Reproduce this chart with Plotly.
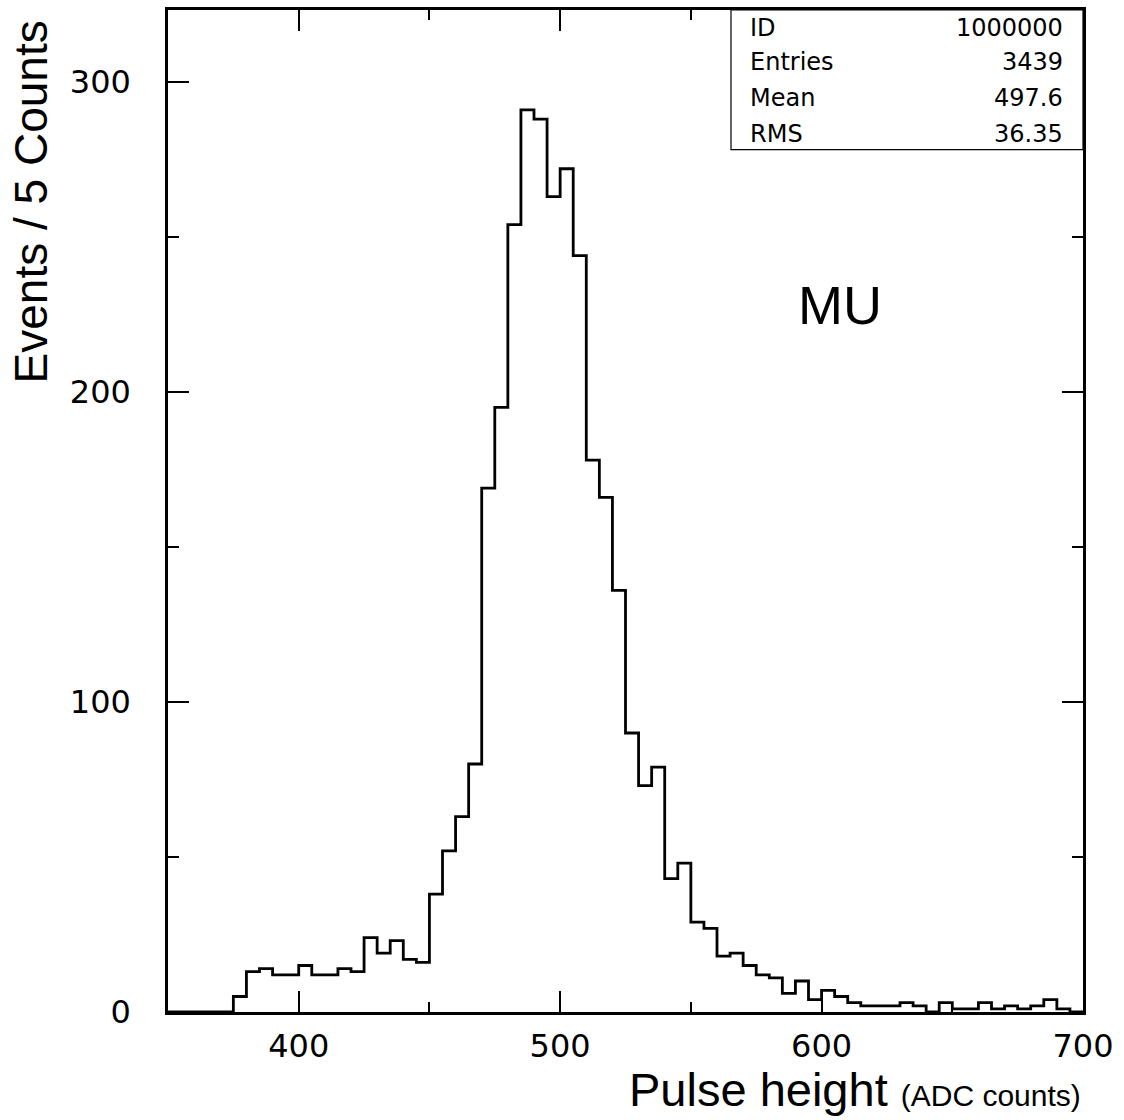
import numpy as np
import plotly.graph_objects as go

# Histogram: bin lower edges (width 5) and counts
bin_width = 5
bin_low = list(range(350, 700, 5))
counts = [0, 0, 0, 0, 0,
          5, 13, 14, 12, 12,
          15, 12, 12, 14, 13,
          24, 19, 23, 17, 16,
          38, 52, 63, 80, 169,
          195, 254, 291, 288, 263,
          272, 244, 178, 166, 136,
          90, 73, 79, 43, 48,
          29, 27, 18, 19, 15,
          12, 11, 6, 10, 4,
          7, 5, 3, 2, 2, 2,
          3, 2, 0, 3, 1, 1,
          3, 1, 2, 1, 2, 4, 1, 0]

stat_labels = ["ID", "Entries", "Mean", "RMS"]
stat_values = ["1000000", "3439", "497.6", "36.35"]

x_ticks = [400, 500, 600, 700]
y_ticks = [0, 100, 200, 300]

xs = bin_low + [bin_low[-1] + bin_width]
ys = counts + [counts[-1]]

W, H = 1124, 1120
ml, mr, mt, mb = 168, 41, 7, 108
ph = H - mt - mb

def py(pix):
    return (H - mb - pix) / ph

fig = go.Figure()
fig.add_trace(go.Scatter(x=xs, y=ys, mode="lines", line=dict(color="black", width=2.8, shape="hv"),
                         hoverinfo="skip", showlegend=False))

tickfont = dict(family="DejaVu Sans", size=32, color="black")
fig.update_layout(
    width=W, height=H,
    margin=dict(l=ml, r=mr, t=mt, b=mb),
    paper_bgcolor="white", plot_bgcolor="white",
    showlegend=False,
    xaxis=dict(range=[350, 700], tickvals=x_ticks, ticks="inside", ticklen=21, tickwidth=2,
               tickcolor="black", showline=True, linecolor="black", linewidth=2.5, mirror="allticks",
               showgrid=False, zeroline=False, tickfont=tickfont, ticklabelstandoff=4,
               minor=dict(tickvals=[350, 450, 550, 650], ticks="inside", ticklen=10, tickwidth=2,
                          tickcolor="black", showgrid=False)),
    yaxis=dict(range=[0, 323.2], tickvals=y_ticks, ticks="inside", ticklen=21, tickwidth=2,
               tickcolor="black", showline=True, linecolor="black", linewidth=2.5, mirror="allticks",
               showgrid=False, zeroline=False, tickfont=tickfont, ticklabelstandoff=28,
               minor=dict(tickvals=[50, 150, 250], ticks="inside", ticklen=11, tickwidth=2,
                          tickcolor="black", showgrid=False)),
)

# Stats box
box_left = (731 - ml) / (W - ml - mr)
box_bottom = py(147)
fig.add_shape(type="rect", xref="paper", yref="paper", x0=box_left, x1=1, y0=box_bottom, y1=1,
              line=dict(color="black", width=1.2), fillcolor="white", layer="above")
row_y = [25, 59, 95, 131]
statfont = dict(family="DejaVu Sans", size=24, color="black")
for lab, val, ry in zip(stat_labels, stat_values, row_y):
    fig.add_annotation(xref="paper", yref="paper", x=(748 - ml) / (W - ml - mr), y=py(ry),
                       text=lab, showarrow=False, xanchor="left", yanchor="middle", font=statfont)
    fig.add_annotation(xref="paper", yref="paper", x=(1065 - ml) / (W - ml - mr), y=py(ry),
                       text=val, showarrow=False, xanchor="right", yanchor="middle", font=statfont)

# MU label
fig.add_annotation(xref="paper", yref="paper", x=(840 - ml) / (W - ml - mr), y=py(303),
                   text="MU", showarrow=False, xanchor="center", yanchor="middle",
                   font=dict(family="Liberation Sans", size=54, color="black"))

# Axis titles
fig.add_annotation(xref="paper", yref="paper", x=1, y=py(1090),
                   text="Pulse height <span style='font-size:30px'>(ADC counts)</span>",
                   showarrow=False, xanchor="right", yanchor="middle",
                   font=dict(family="Liberation Sans", size=47, color="black"))
fig.add_annotation(xref="paper", yref="paper", x=(31 - ml) / (W - ml - mr), y=py(200),
                   text="Events / 5 Counts", textangle=-90, showarrow=False,
                   xanchor="center", yanchor="middle",
                   font=dict(family="Liberation Sans", size=46, color="black"))

fig.write_html("out.html")
